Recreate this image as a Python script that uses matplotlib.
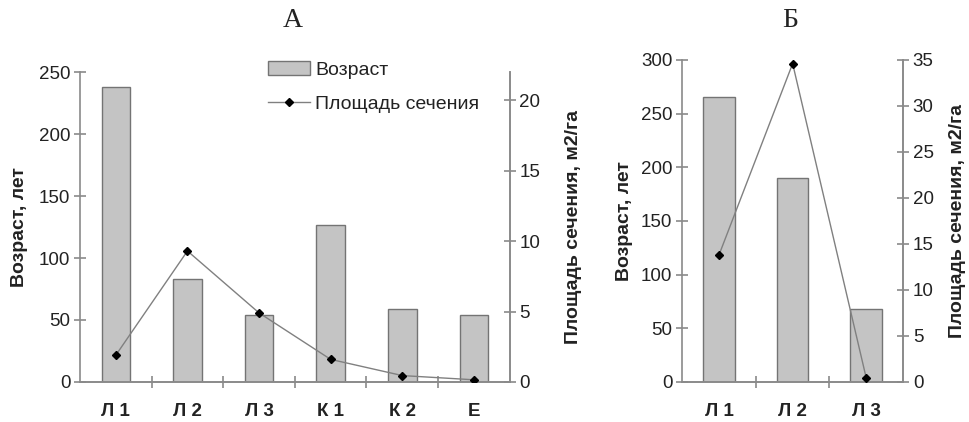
import matplotlib.pyplot as plt
import numpy as np

plt.rcParams["font.family"] = ["Liberation Sans", "DejaVu Sans"]

# panel A
cats_a = ["Л 1", "Л 2", "Л 3", "К 1", "К 2", "Е"]
age_a = [238, 83, 54, 127, 59, 54]
area_a = [1.9, 9.3, 4.9, 1.6, 0.45, 0.15]

# panel B
cats_b = ["Л 1", "Л 2", "Л 3"]
age_b = [265, 190, 68]
area_b = [13.8, 34.6, 0.4]

BAR_COLOR = "#c4c4c4"
EDGE_COLOR = "#747474"
AXIS_COLOR = "#8a8a8a"
TEXT_COLOR = "#222222"


def style_axis(ax):
    ax.spines["top"].set_visible(False)
    for side in ("left", "right", "bottom"):
        ax.spines[side].set_color(AXIS_COLOR)
        ax.spines[side].set_linewidth(1.2)
    ax.tick_params(axis="y", direction="inout", length=8, width=1.2,
                   color=AXIS_COLOR, labelsize=13.5, labelcolor=TEXT_COLOR, pad=3)


def draw_panel(ax, cats, age, area, age_max, age_step, area_max, area_step, bar_w,
               left_pad, right_pad, legend=False):
    x = np.arange(len(cats))
    ax.bar(x, age, width=bar_w, color=BAR_COLOR, edgecolor=EDGE_COLOR, linewidth=1.0,
           label="Возраст", zorder=2)
    ax.set_xlim(-0.5, len(cats) - 0.5)
    ax.set_ylim(0, age_max)
    ax.set_yticks(np.arange(0, age_max + 1, age_step))
    ax.set_xticks(x)
    ax.set_xticklabels(cats, fontsize=13.5, fontweight="bold", color=TEXT_COLOR)
    ax.set_xticks(np.arange(0.5, len(cats) - 0.5, 1), minor=True)
    ax.tick_params(axis="x", which="major", length=0, pad=15)
    ax.tick_params(axis="x", which="minor", direction="inout", length=8, width=1.2, color=AXIS_COLOR)
    style_axis(ax)
    ax.set_ylabel("Возраст, лет", fontsize=14, fontweight="bold", color=TEXT_COLOR,
                  labelpad=left_pad)

    ax2 = ax.twinx()
    ax2.plot(x, area, color="#808080", linewidth=1.0, marker="D", markersize=4.5,
             markerfacecolor="black", markeredgecolor="black", label="Площадь сечения", zorder=3)
    ax2.set_ylim(0, area_max)
    ax2.set_yticks(np.arange(0, area_max + 0.01, area_step))
    style_axis(ax2)
    ax2.spines["left"].set_visible(False)
    ax2.set_ylabel("Площадь сечения, м2/га", fontsize=14, fontweight="bold", color=TEXT_COLOR,
                   labelpad=right_pad)

    if legend:
        h1, l1 = ax.get_legend_handles_labels()
        h2, l2 = ax2.get_legend_handles_labels()
        ax2.legend(h1 + h2, l1 + l2, loc="upper left", bbox_to_anchor=(0.437, 1.035),
                   borderaxespad=0, borderpad=0, frameon=False, fontsize=14,
                   handlelength=2.15, labelspacing=0.85, handletextpad=0.3,
                   labelcolor=TEXT_COLOR)


fig = plt.figure(figsize=(9.69, 4.22), dpi=100)
ax_a = fig.add_axes([0.0826, 0.095, 0.4434, 0.734])
ax_b = fig.add_axes([0.704, 0.095, 0.228, 0.763])

draw_panel(ax_a, cats_a, age_a, area_a, 250, 50, 22, 5, 0.4, 8, 18, legend=True)
draw_panel(ax_b, cats_b, age_b, area_b, 300, 50, 35, 5, 0.43, 6, 11)

fig.text(0.302, 0.952, "А", ha="center", va="center", fontsize=20,
         family="Liberation Serif", color=TEXT_COLOR)
fig.text(0.815, 0.952, "Б", ha="center", va="center", fontsize=20,
         family="Liberation Serif", color=TEXT_COLOR)

fig.savefig("out.png", dpi=100)
